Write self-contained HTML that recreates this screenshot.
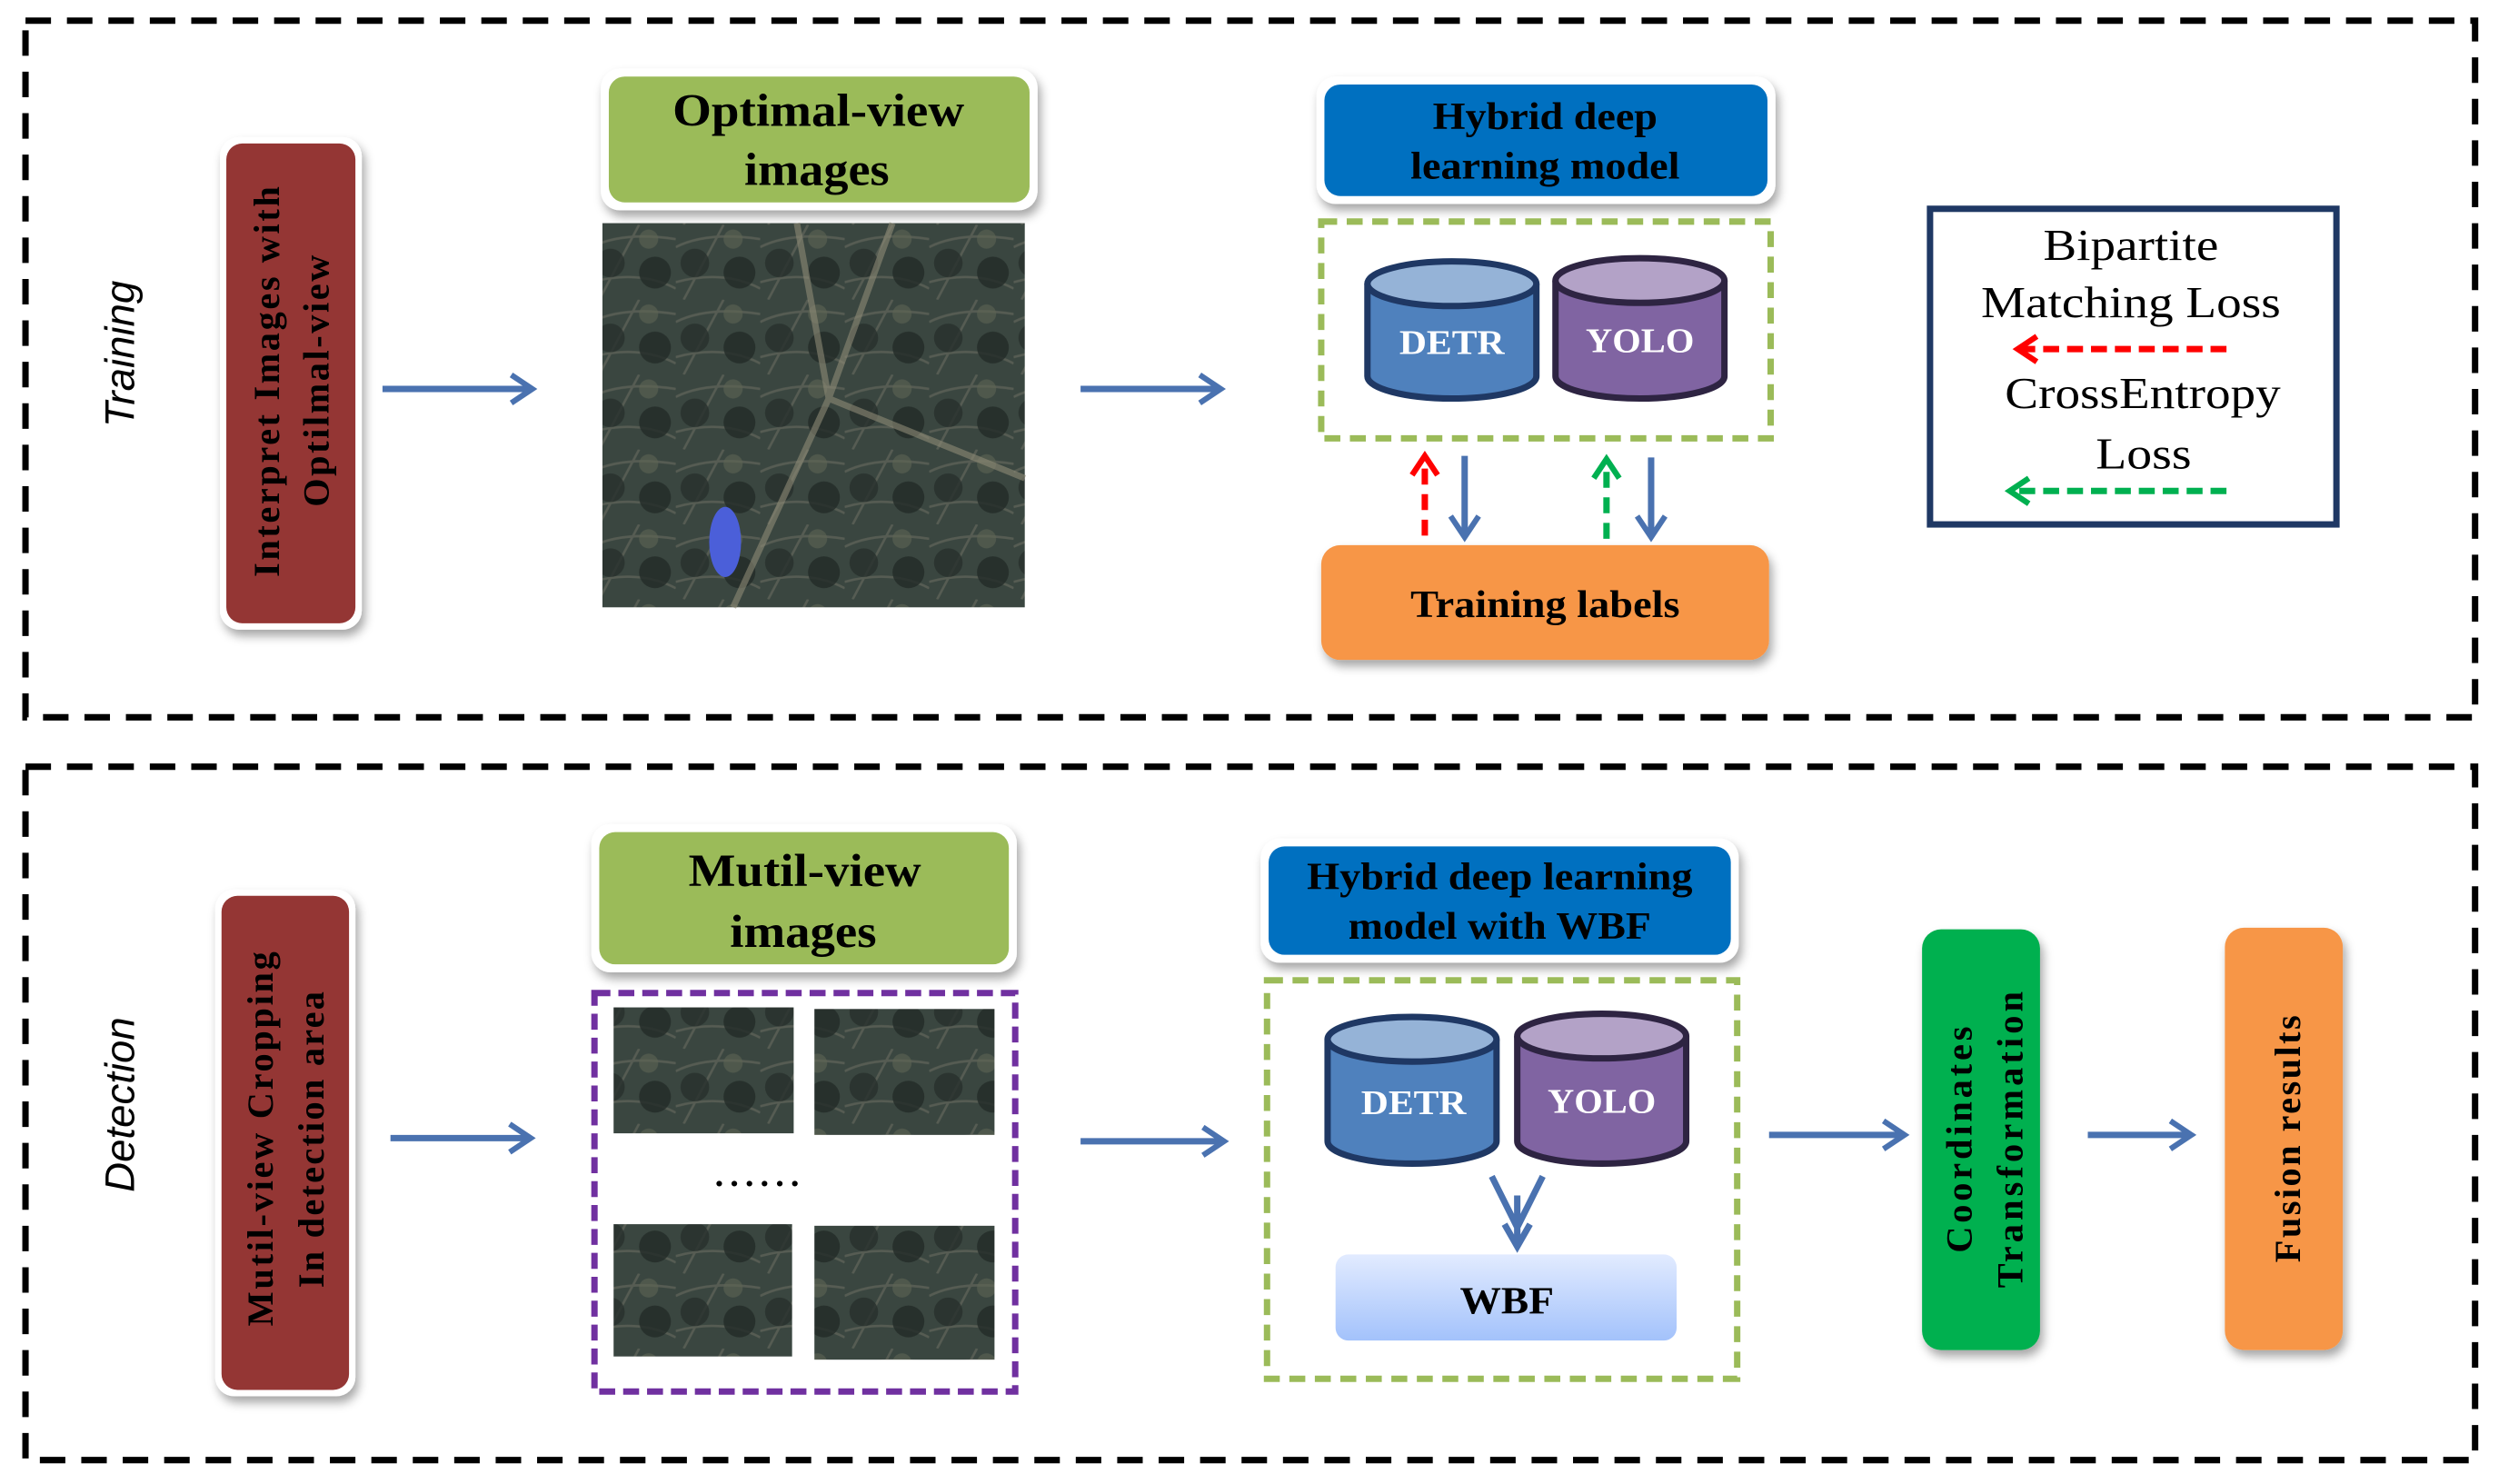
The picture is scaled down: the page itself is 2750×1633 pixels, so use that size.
<!DOCTYPE html>
<html><head><meta charset="utf-8"><style>html,body{margin:0;padding:0;background:#fff}svg{display:block}</style></head>
<body>
<svg width="2750" height="1633" viewBox="0 0 1568 931" preserveAspectRatio="none" xmlns="http://www.w3.org/2000/svg">
<defs>
<linearGradient id="wbf" x1="0" y1="0" x2="0" y2="1"><stop offset="0" stop-color="#e2ebff"/><stop offset="1" stop-color="#a3c2fb"/></linearGradient>
<filter id="sh" x="-20%" y="-20%" width="140%" height="140%"><feDropShadow dx="2" dy="4" stdDeviation="3" flood-color="#000" flood-opacity="0.35"/></filter>
<pattern id="sat" width="53" height="47" patternUnits="userSpaceOnUse">
<rect width="53" height="47" fill="#3a4640"/>
<path d="M0 14 Q20 4 53 9 M5 47 L30 0 M0 36 Q30 28 53 40" stroke="#77786a" stroke-width="1.5" opacity="0.45" fill="none"/>
<circle cx="12" cy="24" r="9" fill="#27302c" opacity="0.8"/><circle cx="40" cy="30" r="10" fill="#222b27" opacity="0.8"/><circle cx="36" cy="9" r="6" fill="#5d6453" opacity="0.6"/>
</pattern>
<marker id="ab" viewBox="0 0 10 10" refX="8" refY="5" markerWidth="5.5" markerHeight="5.5" orient="auto"><path d="M2 1 L8 5 L2 9" fill="none" stroke="#4a72b0" stroke-width="1.6"/></marker>
<marker id="ar" viewBox="0 0 10 10" refX="8" refY="5" markerWidth="5" markerHeight="5" orient="auto"><path d="M2 1 L8 5 L2 9" fill="none" stroke="#f00" stroke-width="1.8"/></marker>
<marker id="ag" viewBox="0 0 10 10" refX="8" refY="5" markerWidth="5" markerHeight="5" orient="auto"><path d="M2 1 L8 5 L2 9" fill="none" stroke="#00b050" stroke-width="1.8"/></marker>
</defs>
<g font-family="Liberation Serif, serif" font-weight="bold">
<rect x="16" y="13" width="1537" height="437" fill="none" stroke="#000" stroke-width="4" stroke-dasharray="16 10"/>
<rect x="16" y="481" width="1537" height="435" fill="none" stroke="#000" stroke-width="4" stroke-dasharray="16 10"/>
<text transform="translate(84,222) rotate(-90)" text-anchor="middle" font-family="Liberation Sans, sans-serif" font-style="italic" font-weight="normal" font-size="26">Training</text>
<text transform="translate(84,693) rotate(-90)" text-anchor="middle" font-family="Liberation Sans, sans-serif" font-style="italic" font-weight="normal" font-size="26">Detection</text>

<rect x="138" y="86" width="89" height="309" rx="12" fill="#fff" filter="url(#sh)"/>
<rect x="142" y="90" width="81" height="301" rx="10" fill="#943634"/>
<text transform="translate(175,362) rotate(-90)" font-size="23" textLength="245" lengthAdjust="spacing">Interpret Images with</text>
<text transform="translate(206,318) rotate(-90)" font-size="23" textLength="158" lengthAdjust="spacing">Optilmal-view</text>
<line x1="240" y1="244" x2="334" y2="244" stroke="#4a72b0" stroke-width="4" marker-end="url(#ab)"/>
<rect x="377" y="43" width="274" height="89" rx="12" fill="#fff" filter="url(#sh)"/>
<rect x="382" y="48" width="264" height="79" rx="10" fill="#9bbb59"/>
<text x="422" y="79" font-size="29" textLength="183" lengthAdjust="spacingAndGlyphs">Optimal-view</text>
<text x="467" y="116" font-size="29" textLength="91" lengthAdjust="spacingAndGlyphs">images</text>
<rect x="378" y="140" width="265" height="241" fill="url(#sat)"/>
<path d="M500 140 L520 250 L460 381 M520 250 L643 300 M520 250 L560 140" stroke="#8d8a76" stroke-width="4" fill="none" opacity="0.6"/>
<ellipse cx="455" cy="340" rx="10" ry="22" fill="#4b5fd9"/>
<line x1="678" y1="244" x2="766" y2="244" stroke="#4a72b0" stroke-width="4" marker-end="url(#ab)"/>
<rect x="826" y="48" width="288" height="80" rx="12" fill="#fff" filter="url(#sh)"/>
<rect x="831" y="53" width="278" height="70" rx="10" fill="#0070c0"/>
<text x="899" y="81" font-size="24" textLength="141" lengthAdjust="spacingAndGlyphs">Hybrid deep</text>
<text x="885" y="112" font-size="24" textLength="169" lengthAdjust="spacingAndGlyphs">learning model</text>
<rect x="829" y="139" width="282" height="136" fill="none" stroke="#9bbb59" stroke-width="4" stroke-dasharray="10 6"/>
<g stroke-width="4">
<path d="M858 178 L858 236 A53 14 0 0 0 964 236 L964 178" fill="#4f81bd" stroke="#1f3864"/>
<ellipse cx="911" cy="178" rx="53" ry="14" fill="#95b3d7" stroke="#1f3864"/>
<path d="M976 176 L976 236 A53 14 0 0 0 1082 236 L1082 176" fill="#8064a2" stroke="#2e2442"/>
<ellipse cx="1029" cy="176" rx="53" ry="14" fill="#b3a2c7" stroke="#2e2442"/>
</g>
<text x="878" y="222" font-size="22" fill="#fff" textLength="66" lengthAdjust="spacingAndGlyphs">DETR</text>
<text x="995" y="221" font-size="22" fill="#fff" textLength="68" lengthAdjust="spacingAndGlyphs">YOLO</text>
<line x1="894" y1="336" x2="894" y2="286" stroke="#f00" stroke-width="4" stroke-dasharray="10 6" marker-end="url(#ar)"/>
<line x1="919" y1="286" x2="919" y2="337" stroke="#4a72b0" stroke-width="4" marker-end="url(#ab)"/>
<line x1="1008" y1="338" x2="1008" y2="288" stroke="#00b050" stroke-width="4" stroke-dasharray="10 6" marker-end="url(#ag)"/>
<line x1="1036" y1="287" x2="1036" y2="337" stroke="#4a72b0" stroke-width="4" marker-end="url(#ab)"/>
<rect x="829" y="342" width="281" height="72" rx="12" fill="#f79646" filter="url(#sh)"/>
<text x="885" y="387" font-size="24" textLength="169" lengthAdjust="spacingAndGlyphs">Training labels</text>
<rect x="1211" y="131" width="255" height="198" fill="none" stroke="#1f3864" stroke-width="4"/>
<g font-weight="normal" font-size="28" lengthAdjust="spacingAndGlyphs">
<text x="1282" y="163" textLength="110" lengthAdjust="spacingAndGlyphs">Bipartite</text>
<text x="1243" y="199" textLength="188" lengthAdjust="spacingAndGlyphs">Matching Loss</text>
<text x="1258" y="256" textLength="173" lengthAdjust="spacingAndGlyphs">CrossEntropy</text>
<text x="1315" y="294" textLength="60" lengthAdjust="spacingAndGlyphs">Loss</text>
</g>
<line x1="1397" y1="219" x2="1266" y2="219" stroke="#f00" stroke-width="4" stroke-dasharray="10 5" marker-end="url(#ar)"/>
<line x1="1397" y1="308" x2="1261" y2="308" stroke="#00b050" stroke-width="4" stroke-dasharray="10 5" marker-end="url(#ag)"/>

<rect x="135" y="558" width="88" height="318" rx="12" fill="#fff" filter="url(#sh)"/>
<rect x="139" y="562" width="80" height="310" rx="10" fill="#943634"/>
<text transform="translate(171,832) rotate(-90)" font-size="23" textLength="235" lengthAdjust="spacing">Mutil-view Cropping</text>
<text transform="translate(203,808) rotate(-90)" font-size="23" textLength="186" lengthAdjust="spacing">In detection area</text>
<line x1="245" y1="714" x2="333" y2="714" stroke="#4a72b0" stroke-width="4" marker-end="url(#ab)"/>
<rect x="371" y="517" width="267" height="93" rx="12" fill="#fff" filter="url(#sh)"/>
<rect x="376" y="522" width="257" height="83" rx="10" fill="#9bbb59"/>
<text x="432" y="556" font-size="29" textLength="146" lengthAdjust="spacingAndGlyphs">Mutil-view</text>
<text x="458" y="594" font-size="29" textLength="92" lengthAdjust="spacingAndGlyphs">images</text>
<rect x="373" y="623" width="264" height="250" fill="none" stroke="#7030a0" stroke-width="4" stroke-dasharray="10 5"/>
<rect x="385" y="632" width="113" height="79" fill="url(#sat)"/>
<rect x="511" y="633" width="113" height="79" fill="url(#sat)"/>
<rect x="385" y="768" width="112" height="83" fill="url(#sat)"/>
<rect x="511" y="769" width="113" height="84" fill="url(#sat)"/>
<text x="477" y="744" text-anchor="middle" font-size="22" letter-spacing="4">......</text>
<line x1="678" y1="716" x2="768" y2="716" stroke="#4a72b0" stroke-width="4" marker-end="url(#ab)"/>
<rect x="791" y="526" width="300" height="78" rx="12" fill="#fff" filter="url(#sh)"/>
<rect x="796" y="531" width="290" height="68" rx="10" fill="#0070c0"/>
<text x="820" y="558" font-size="24" textLength="242" lengthAdjust="spacingAndGlyphs">Hybrid deep learning</text>
<text x="846" y="589" font-size="24" textLength="190" lengthAdjust="spacingAndGlyphs">model with WBF</text>
<rect x="795" y="615" width="295" height="250" fill="none" stroke="#9bbb59" stroke-width="4" stroke-dasharray="10 6"/>
<g stroke-width="4">
<path d="M833 652 L833 716 A53 14 0 0 0 939 716 L939 652" fill="#4f81bd" stroke="#1f3864"/>
<ellipse cx="886" cy="652" rx="53" ry="14" fill="#95b3d7" stroke="#1f3864"/>
<path d="M952 650 L952 716 A53 14 0 0 0 1058 716 L1058 650" fill="#8064a2" stroke="#2e2442"/>
<ellipse cx="1005" cy="650" rx="53" ry="14" fill="#b3a2c7" stroke="#2e2442"/>
</g>
<text x="854" y="699" font-size="22" fill="#fff" textLength="66" lengthAdjust="spacingAndGlyphs">DETR</text>
<text x="971" y="698" font-size="22" fill="#fff" textLength="68" lengthAdjust="spacingAndGlyphs">YOLO</text>
<path d="M936 738 L952 770 L968 738 M952 750 L952 780 M944 768 L952 782 L960 768" fill="none" stroke="#4a72b0" stroke-width="4"/>
<rect x="838" y="787" width="214" height="54" rx="8" fill="url(#wbf)"/>
<text x="916" y="824" font-size="24" textLength="59" lengthAdjust="spacingAndGlyphs">WBF</text>
<line x1="1110" y1="712" x2="1195" y2="712" stroke="#4a72b0" stroke-width="4" marker-end="url(#ab)"/>
<rect x="1206" y="583" width="74" height="264" rx="12" fill="#00b050" filter="url(#sh)"/>
<text transform="translate(1237,786) rotate(-90)" font-size="23" textLength="142" lengthAdjust="spacing">Coordinates</text>
<text transform="translate(1269,808) rotate(-90)" font-size="23" textLength="186" lengthAdjust="spacing">Transformation</text>
<line x1="1310" y1="712" x2="1375" y2="712" stroke="#4a72b0" stroke-width="4" marker-end="url(#ab)"/>
<rect x="1396" y="582" width="74" height="265" rx="12" fill="#f79646" filter="url(#sh)"/>
<text transform="translate(1443,792) rotate(-90)" font-size="23" textLength="155" lengthAdjust="spacing">Fusion results</text>
</g>
</svg>
</body></html>
